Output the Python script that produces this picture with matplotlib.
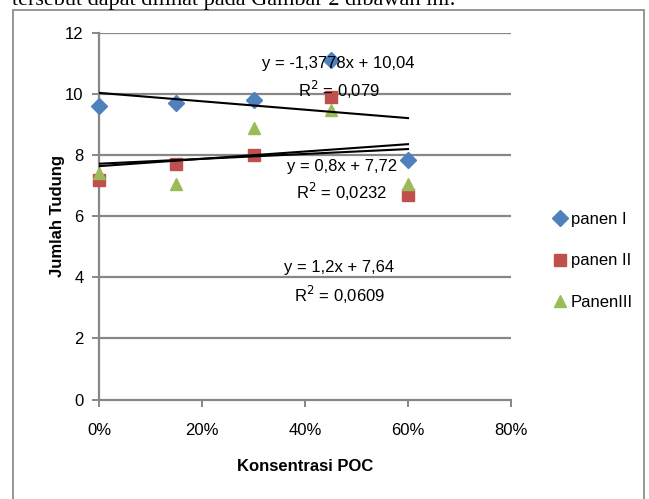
import numpy as np
import matplotlib
matplotlib.use("Agg")
import matplotlib.pyplot as plt
from matplotlib.patches import Rectangle

plt.rcParams['font.family'] = ['Liberation Sans', 'DejaVu Sans']

# data
konsentrasi = [0.0, 0.15, 0.30, 0.45, 0.60]
panen_1 = [9.6, 9.72, 9.8, 11.1, 7.85]
panen_2 = [7.2, 7.7, 8.0, 9.9, 6.7]
panen_3 = [7.4, 7.05, 8.9, 9.48, 7.07]

# trend line coefficients (slope, intercept) as printed on the chart
trend_slope = [-1.3778, 0.8, 1.2]
trend_icpt = [10.04, 7.72, 7.64]
trend_eq = ["y = -1,3778x + 10,04", "y = 0,8x + 7,72", "y = 1,2x + 7,64"]
trend_r2 = ["R$^2$ = 0,079", "R$^2$ = 0,0232", "R$^2$ = 0,0609"]

series = [("panen I", panen_1, "#4F81BD", "D", 8.5),
          ("panen II", panen_2, "#C0504D", "s", 8.5),
          ("PanenIII", panen_3, "#9BBB59", "^", 9)]

fs = 12

fig = plt.figure(figsize=(6.49, 4.99), dpi=100)
ax = fig.add_axes([99 / 649, 99.5 / 499, 412 / 649, 366.5 / 499])

grid_c = "#878787"
for yv in range(2, 13, 2):
    ax.axhline(yv, color=grid_c, lw=1.6, zorder=1)

for name, vals, col, mk, ms in series:
    ax.plot(konsentrasi, vals, linestyle="none", marker=mk, color=col,
            markersize=ms, label=name, zorder=3, clip_on=False)

xs = np.array([konsentrasi[0], konsentrasi[-1]])
for m, b in zip(trend_slope, trend_icpt):
    ax.plot(xs, m * xs + b, color="black", lw=1.5, zorder=4)

# equation labels
eq_pos = [(0.465, 10.99, 10.13), (0.471, 7.62, 6.80), (0.467, 4.31, 3.42)]
for (px, y1, y2), eq, r2 in zip(eq_pos, trend_eq, trend_r2):
    ax.text(px, y1, eq, ha="center", va="center", fontsize=fs, zorder=5)
    ax.text(px, y2, r2, ha="center", va="center", fontsize=fs, zorder=5)

ax.set_xlim(0, 0.8)
ax.set_ylim(0, 12)
ax.set_xticks([0, 0.2, 0.4, 0.6, 0.8])
ax.set_xticklabels(["0%", "20%", "40%", "60%", "80%"])
ax.set_yticks(range(0, 13, 2))
for s in ["top", "right"]:
    ax.spines[s].set_visible(False)
for s in ["left", "bottom"]:
    ax.spines[s].set_color(grid_c)
    ax.spines[s].set_linewidth(1.6)
ax.tick_params(axis="both", colors=grid_c, labelcolor="black", labelsize=fs,
               length=5, width=1.4)
ax.tick_params(axis="x", pad=12)
ax.tick_params(axis="y", pad=6)
ax.set_xlabel("Konsentrasi POC", fontsize=fs, fontweight="bold", labelpad=15)
ax.set_ylabel("Jumlah Tudung", fontsize=fs, fontweight="bold", labelpad=0)

ax.legend(loc="upper left", bbox_to_anchor=(1.08, 0.535), frameon=False,
          fontsize=fs, handletextpad=0.2, labelspacing=1.6, markerscale=0.95,
          handlelength=0.9, borderpad=0)

# outer chart border
fig.patches.append(Rectangle((13 / 649, -0.01), 631 / 649, 1 - 10 / 499 + 0.01,
                             transform=fig.transFigure, fill=False,
                             edgecolor="#969696", lw=1.4))

# page text cut by the crop
fig.text(12 / 649, 1 + 9 / 499, "tersebut dapat dilihat pada Gambar 2 dibawah ini.",
         fontsize=16, family="Liberation Serif", va="top", ha="left")

fig.savefig("out.png", dpi=100)
